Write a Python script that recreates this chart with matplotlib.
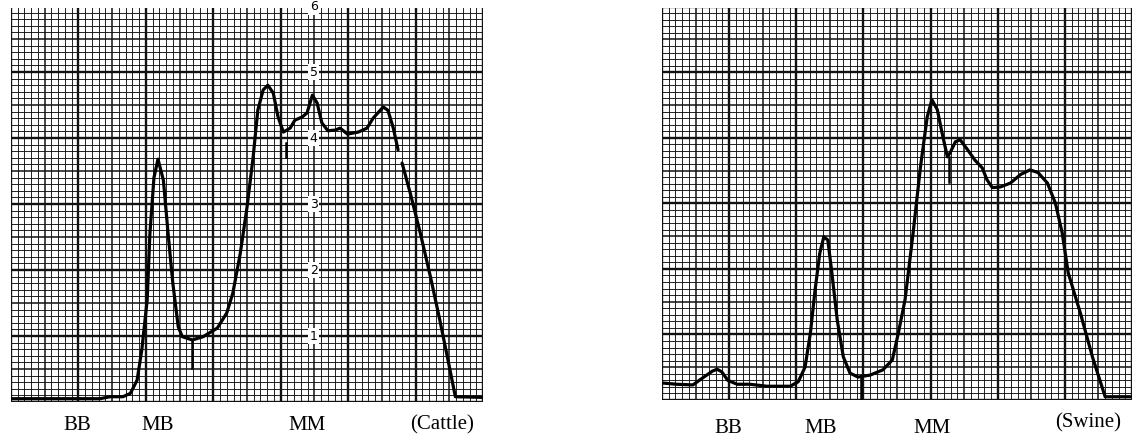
import numpy as np
import matplotlib
matplotlib.use("Agg")
import matplotlib.pyplot as plt

# densitometer traces (x in major divisions, y in scale units)
cattle_x = [0.0, 1.32, 1.47, 1.66, 1.77, 1.87, 1.94, 2.02, 2.06, 2.12, 2.18,
            2.26, 2.33, 2.40, 2.48, 2.54, 2.69, 2.85, 3.06, 3.20, 3.29, 3.40,
            3.50, 3.59, 3.66, 3.74, 3.81, 3.89, 3.96, 4.04, 4.14, 4.21, 4.32,
            4.39, 4.47, 4.54, 4.61, 4.70, 4.81, 4.88, 4.99, 5.15, 5.28, 5.37,
            5.52, 5.59, 5.67, 5.74, np.nan, 5.80, 5.92, 6.07, 6.22, 6.36, 6.48,
            6.59, 7.0]
cattle_y = [0.05, 0.05, 0.08, 0.08, 0.13, 0.33, 0.79, 1.55, 2.55, 3.4, 3.68,
            3.36, 2.55, 1.8, 1.14, 0.99, 0.94, 0.99, 1.12, 1.35, 1.65, 2.25,
            2.95, 3.7, 4.42, 4.73, 4.8, 4.68, 4.32, 4.09, 4.15, 4.27, 4.32,
            4.38, 4.65, 4.53, 4.23, 4.11, 4.12, 4.15, 4.06, 4.09, 4.15, 4.3,
            4.47, 4.42, 4.15, 3.82, np.nan, 3.62, 3.17, 2.56, 1.9, 1.24, 0.64,
            0.08, 0.07]

swine_x = [0.0, 0.22, 0.46, 0.61, 0.75, 0.82, 0.89, 0.98, 1.12, 1.31, 1.56,
           1.91, 2.03, 2.13, 2.21, 2.28, 2.35, 2.41, 2.47, 2.53, 2.61, 2.70,
           2.80, 2.92, 3.10, 3.29, 3.43, 3.52, 3.62, 3.74, 3.85, 3.95, 4.02,
           4.10, 4.17, 4.25, 4.29, 4.37, 4.44, 4.55, 4.66, 4.77, 4.84, 4.92,
           5.04, 5.19, 5.34, 5.48, 5.60, 5.74, 5.86, 5.96, 6.05, 6.23, 6.41,
           6.60, 6.97]
swine_y = [0.26, 0.24, 0.23, 0.34, 0.44, 0.47, 0.43, 0.30, 0.24, 0.24, 0.21,
           0.21, 0.28, 0.50, 1.02, 1.68, 2.24, 2.49, 2.44, 1.94, 1.22, 0.66,
           0.41, 0.35, 0.38, 0.46, 0.61, 1.02, 1.53, 2.55, 3.56, 4.32, 4.58,
           4.43, 4.08, 3.71, 3.77, 3.94, 3.97, 3.82, 3.66, 3.54, 3.36, 3.24,
           3.25, 3.31, 3.44, 3.51, 3.47, 3.31, 3.0, 2.55, 1.94, 1.33, 0.66,
           0.05, 0.05]

# short pen marks (x, y from, y to)
cattle_marks = [(2.69, 0.94, 0.51), (4.08, 3.92, 3.71)]
swine_marks = [(2.96, 0.35, 0.0), (4.27, 3.71, 3.33)]

scale_labels = ["1", "2", "3", "4", "5", "6"]
scale_y = [1, 2, 3, 4, 5, 5.99]
cattle_names = ["BB", "MB", "MM", "(Cattle)"]
cattle_name_x = [0.98, 2.17, 4.39, 6.4]
swine_names = ["BB", "MB", "MM", "(Swine)"]
swine_name_x = [0.98, 2.36, 4.03, 6.35]

fig = plt.figure(figsize=(11.38, 4.44), dpi=100)
ax1 = fig.add_axes([11 / 1138, 42 / 444, 472 / 1138, 394 / 444])
ax2 = fig.add_axes([662 / 1138, 44 / 444, 470 / 1138, 392 / 444])


def paper(ax, top):
    ax.set_xlim(0, 7)
    ax.set_ylim(0, top)
    ax.axis("off")
    for v in np.arange(0, 70.5) / 10:
        k = int(round(v * 10))
        lw = 1.7 if k % 10 == 0 else (1.1 if k % 5 == 0 else 0.65)
        ax.axvline(v, color="#111111", lw=lw, zorder=1)
    for h in np.arange(0, top * 10 + 0.5) / 10:
        k = int(round(h * 10))
        lw = 1.7 if k % 10 == 0 else (1.1 if k % 5 == 0 else 0.65)
        ax.axhline(h, color="#111111", lw=lw, zorder=1)


paper(ax1, 5.97)
paper(ax2, 5.98)

ax1.plot(cattle_x, cattle_y, color="black", lw=2.3, zorder=3,
         solid_joinstyle="round", solid_capstyle="round")
ax2.plot(swine_x, swine_y, color="black", lw=2.3, zorder=3,
         solid_joinstyle="round", solid_capstyle="round")
for mx, a, b in cattle_marks:
    ax1.plot([mx, mx], [a, b], color="black", lw=1.8, zorder=3)
for mx, a, b in swine_marks:
    ax2.plot([mx, mx], [a, b], color="black", lw=1.8, zorder=3)

for s, y in zip(scale_labels, scale_y):
    ax1.text(4.49, y, s, ha="center", va="center", fontsize=9,
             family="DejaVu Sans", zorder=2, clip_on=False,
             bbox=dict(facecolor="white", edgecolor="none", pad=1.2))

for s, x in zip(cattle_names, cattle_name_x):
    fig.text((11 + x * 67.4) / 1138, 19 / 444, s, ha="center", va="center",
             fontsize=15, family="Liberation Serif")
for s, x in zip(swine_names, swine_name_x):
    yy = 21 / 444 if s.startswith("(") else 16 / 444
    fig.text((662 + x * 67.1) / 1138, yy, s, ha="center", va="center",
             fontsize=15, family="Liberation Serif")

fig.savefig("out.png", dpi=100, facecolor="white")
